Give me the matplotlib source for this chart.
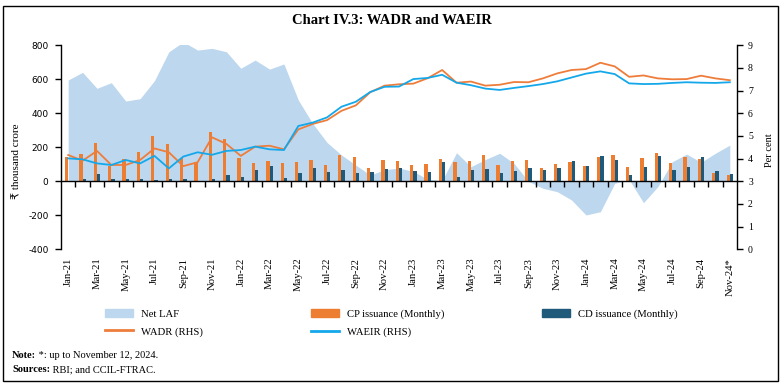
import numpy as np
import pandas as pd
import matplotlib
matplotlib.use('Agg')
import matplotlib.pyplot as plt
from matplotlib.patches import Patch, Rectangle
from matplotlib.lines import Line2D

plt.rcParams['axes.unicode_minus'] = False

# monthly categories, Jan-21 .. Nov-24 (last one partial)
months = pd.date_range('2021-01-01', '2024-11-01', freq='MS').strftime('%b-%y').tolist()
months[-1] = months[-1] + '*'

# Net LAF, thousand crore (LHS)
net_laf = [596, 641, 547, 580, 472, 486, 592, 762, 820, 772, 782, 762,
           665, 713, 660, 690, 478, 340, 228, 155, 95, 37, 68, 78,
           58, 12, 5, 168, 86, 128, 165, 105, 0, -41, -61, -110,
           -198, -179, -12, 10, -126, -31, 115, 160, 112, 165, 213]

# CP issuance (monthly), thousand crore (LHS)
cp_issuance = [141, 160, 225, 92, 131, 174, 268, 221, 135, 115, 290, 251,
               139, 110, 118, 110, 115, 125, 96, 153, 141, 78, 125, 121,
               98, 104, 129, 114, 121, 153, 94, 119, 123, 80, 102, 112,
               92, 141, 153, 86, 135, 165, 106, 143, 129, 51, 35]

# CD issuance (monthly), thousand crore (LHS)
cd_issuance = [0, 13, 45, 15, 15, 15, 8, 11, 11, 0, 15, 35,
               27, 66, 90, 21, 47, 78, 53, 65, 49, 55, 72, 80,
               61, 57, 112, 27, 65, 74, 47, 61, 76, 65, 78, 119,
               88, 151, 127, 35, 86, 151, 68, 84, 143, 62, 43]

# WADR, per cent (RHS)
wadr = [4.16, 3.91, 4.34, 3.72, 3.72, 3.94, 4.45, 4.28, 3.67, 3.84, 4.94, 4.65,
        4.12, 4.53, 4.57, 4.41, 5.29, 5.53, 5.70, 6.11, 6.35, 6.93, 7.22, 7.28,
        7.31, 7.55, 7.91, 7.35, 7.40, 7.22, 7.26, 7.38, 7.37, 7.54, 7.76, 7.91,
        7.95, 8.23, 8.07, 7.61, 7.67, 7.54, 7.50, 7.51, 7.66, 7.54, 7.46]

# WAEIR, per cent (RHS)
waeir = [4.01, 3.97, 3.79, 3.72, 3.94, 3.79, 4.12, 3.57, 4.09, 4.28, 4.17, 4.34,
         4.38, 4.53, 4.41, 4.38, 5.44, 5.59, 5.82, 6.29, 6.51, 6.94, 7.17, 7.18,
         7.51, 7.56, 7.70, 7.35, 7.24, 7.09, 7.03, 7.12, 7.20, 7.29, 7.41, 7.58,
         7.75, 7.85, 7.73, 7.32, 7.29, 7.30, 7.34, 7.37, 7.35, 7.34, 7.37]

c_laf = '#BDD7EE'
c_cp = '#ED7D31'
c_cd = '#1F5A7A'
c_wadr = '#EE7D3B'
c_waeir = '#14A8EA'
serif = ['Liberation Serif', 'DejaVu Sans']

x = np.arange(len(months))

fig = plt.figure(figsize=(7.84, 3.87), dpi=100)
ax = fig.add_axes([61 / 784, 1 - 249.3 / 387, 676 / 784, 204 / 387])

ax.fill_between(x, 0, net_laf, color=c_laf, lw=0, zorder=1)
bw = 0.23
ax.bar(x - bw / 2, cp_issuance, width=bw, color=c_cp, zorder=2)
ax.bar(x + bw / 2, cd_issuance, width=bw, color=c_cd, zorder=2)

ax.set_xlim(-0.5, len(months) - 0.5)
ax.set_ylim(-400, 800)
ax.set_yticks(np.arange(-400, 801, 200))
ax.tick_params(axis='y', length=4, width=1, pad=5, labelsize=6.5)
for lab in ax.get_yticklabels():
    lab.set_family('DejaVu Sans')

ax.spines['top'].set_visible(False)
ax.spines['right'].set_visible(False)
ax.spines['bottom'].set_position(('data', 0))
ax.spines['bottom'].set_linewidth(1)
ax.spines['left'].set_linewidth(1)

ax.set_xticks(x[::2])
ax.set_xticklabels(months[::2], rotation=90, family=serif, fontsize=7.7)
ax.set_xticks(np.arange(0.5, len(months) - 1, 1), minor=True)
ax.tick_params(axis='x', which='major', length=0, pad=55)
ax.tick_params(axis='x', which='minor', length=4, width=1, direction='out')

ax.set_ylabel('\u20b9 thousand crore', family=serif, fontsize=8)
ax.yaxis.set_label_coords(-0.058, 0.43)

ax2 = ax.twinx()
ax2.plot(x, wadr, color=c_wadr, lw=1.3, zorder=3)
ax2.plot(x, waeir, color=c_waeir, lw=1.3, zorder=3)
ax2.set_ylim(0, 9)
ax2.set_yticks(np.arange(0, 10, 1))
ax2.tick_params(axis='y', length=4, width=1, pad=4, labelsize=7)
for lab in ax2.get_yticklabels():
    lab.set_family(serif)
for s in ['top', 'bottom', 'left']:
    ax2.spines[s].set_visible(False)
ax2.spines['right'].set_linewidth(1)
ax2.set_ylabel('Per cent', family=serif, fontsize=7.5)
ax2.yaxis.set_label_coords(1.041, 0.487)

# title and frame
fig.text(0.5, 1 - 20 / 387, 'Chart IV.3: WADR and WAEIR', ha='center', va='center',
         family=serif, fontsize=10.5, fontweight='bold')
fig.patches.append(Rectangle((3 / 784, 1 - 381 / 387), 775 / 784, 375 / 387,
                             transform=fig.transFigure, fill=False, lw=1, ec='black'))

# legend, three columns placed by hand
leg_kw = dict(loc='upper left', bbox_transform=fig.transFigure, frameon=False,
              borderpad=0, borderaxespad=0, handlelength=2.6, handleheight=0.75,
              handletextpad=0.75, labelspacing=0.75,
              prop={'family': serif, 'size': 7.7})
y_leg = 1 - 309 / 387
fig.legend([Patch(color=c_laf), Line2D([], [], color=c_wadr, lw=2)],
           ['Net LAF', 'WADR (RHS)'], bbox_to_anchor=(105 / 784, y_leg), **leg_kw)
fig.legend([Patch(color=c_cp), Line2D([], [], color=c_waeir, lw=2)],
           ['CP issuance (Monthly)', 'WAEIR (RHS)'], bbox_to_anchor=(311 / 784, y_leg), **leg_kw)
fig.legend([Patch(color=c_cd)],
           ['CD issuance (Monthly)'], bbox_to_anchor=(542 / 784, y_leg), **leg_kw)

# note and sources, bold lead word then plain text
renderer = fig.canvas.get_renderer()
for yy, head, rest in [(356, 'Note:', ' *: up to November 12, 2024.'),
                       (370, 'Sources:', ' RBI; and CCIL-FTRAC.')]:
    t = fig.text(12 / 784, 1 - yy / 387, head, ha='left', va='center',
                 family=serif, fontsize=7.5, fontweight='bold')
    w = t.get_window_extent(renderer).width
    fig.text((12 + w) / 784, 1 - yy / 387, rest, ha='left', va='center',
             family=serif, fontsize=7.5)

fig.savefig('out.png', dpi=100)
